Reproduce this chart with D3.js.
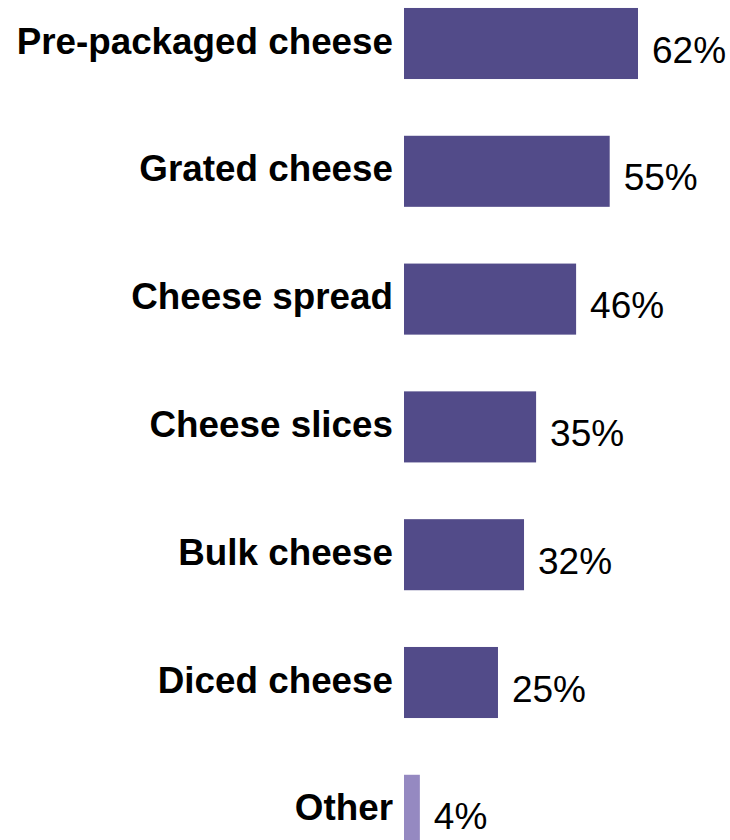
<!DOCTYPE html>
<html>
  <head>
    <meta charset="utf-8" />
    <title>Cheese types</title>
    <script src="https://d3js.org/d3.v7.min.js"></script>
    <style>
      body { margin: 0; background: #fff; }
      svg { display: block; }
      .cat { font: bold 36.8px Arial, "Liberation Sans", sans-serif; text-anchor: end; fill: #000; }
      .val { font: 37px Arial, "Liberation Sans", sans-serif; fill: #000; }
    </style>
  </head>
  <body>
    <svg width="730" height="840"></svg>
    <script>
      const categories = ["Pre-packaged cheese", "Grated cheese", "Cheese spread", "Cheese slices",
                          "Bulk cheese", "Diced cheese", "Other"];
      // bar lengths (labels are rounded)
      const values = [62, 54.5, 45.6, 35, 31.8, 24.9, 4.2];
      const valueLabels = ["62%", "55%", "46%", "35%", "32%", "25%", "4%"];

      const data = categories.map((c, i) => ({ cat: c, value: values[i], label: valueLabels[i] }));

      const svg = d3.select("svg");

      // x: bars start at 404, about 3.77px per percent
      const x = d3.scaleLinear().domain([0, 62]).range([404, 638]);

      const y = d3.scaleBand()
                  .domain(categories)
                  .range([-20.4, 874.2])
                  .paddingInner(0.444)
                  .paddingOuter(0.222);

      const rows = svg.selectAll(".row")
                      .data(data)
                      .enter().append("g")
                      .attr("class", "row");

      rows.append("rect")
          .attr("x", x(0))
          .attr("y", d => y(d.cat))
          .attr("width", d => x(d.value) - x(0))
          .attr("height", y.bandwidth())
          .attr("fill", d => d.cat === "Other" ? "#9589c1" : "#524b89");

      rows.append("text")
          .attr("class", "cat")
          .attr("x", x(0) - 11)
          .attr("y", d => y(d.cat) + y.bandwidth() / 2 + 10)
          .text(d => d.cat);

      rows.append("text")
          .attr("class", "val")
          .attr("x", d => x(d.value) + 14)
          .attr("y", d => y(d.cat) + y.bandwidth() / 2 + 19)
          .text(d => d.label);
    </script>
  </body>
</html>
